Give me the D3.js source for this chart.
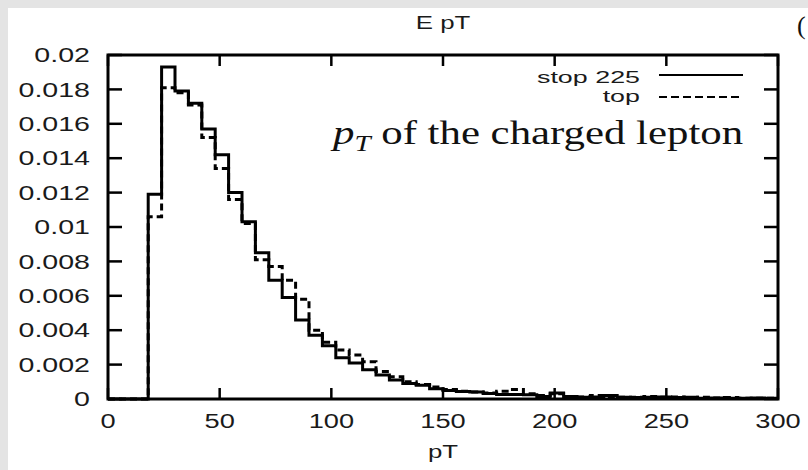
<!DOCTYPE html>
<html>
<head>
<meta charset="utf-8" />
<script src="https://d3js.org/d3.v7.min.js"></script>
<style>
  body { margin: 0; padding: 0; background: #e4e4e4; }
  svg { display: block; }
  .lbl { font-family: "Liberation Sans", Arial, sans-serif; fill: #1a1a1a; }
  .note { font-family: "Liberation Serif", "Times New Roman", serif; fill: #111; }
</style>
</head>
<body>
<svg id="chart" width="808" height="470"></svg>
<script>
// lower edge of each 6 GeV bin
const binLow = [0, 6, 12, 18, 24, 30, 36, 42, 48, 54, 60, 66, 72, 78, 84, 90, 96, 102, 108, 114,
  120, 126, 132, 138, 144, 150, 156, 162, 168, 174, 180, 186, 192, 198, 204, 210, 216, 222, 228, 234,
  240, 246, 252, 258, 264, 270, 276, 282, 288, 294];
const binHigh = 300;

// stop 225 (solid)
const stop225 = [0, 0, 0, 0.0119, 0.0193, 0.0179, 0.0172, 0.0157, 0.0142, 0.0120,
  0.0103, 0.0085, 0.0069, 0.0059, 0.0046, 0.0037, 0.0031, 0.0024, 0.0021, 0.0017,
  0.0014, 0.0011, 0.0009, 0.0008, 0.0006, 0.0005, 0.00043, 0.0004, 0.00032, 0.00026,
  0.00026, 0.00024, 0.00015, 0.00035, 0.00015, 0.0001, 0.00012, 0.0002, 0.0001, 0.00008,
  0.0001, 0.00012, 0.00008, 0.0001, 0.00005, 0.00006, 0.00005, 0.00004, 0.00006, 0.00005];

// top (dashed)
const topQ = [0, 0, 0, 0.0106, 0.0181, 0.0178, 0.0171, 0.0152, 0.0134, 0.0116,
  0.0102, 0.0081, 0.0077, 0.0069, 0.0058, 0.0040, 0.0033, 0.00285, 0.00256, 0.00217,
  0.0016, 0.0013, 0.0010, 0.00085, 0.0007, 0.00055, 0.00045, 0.0004, 0.00035, 0.00045,
  0.00055, 0.0003, 0.0002, 0.0003, 0.00015, 0.00012, 0.0002, 0.00015, 0.0001, 0.0001,
  0.00015, 0.0001, 0.00012, 0.00008, 0.0001, 0.00006, 0.00008, 0.00005, 0.00004, 0.00005];

const xTicks = [0, 50, 100, 150, 200, 250, 300];
const yTicks = [0, 0.002, 0.004, 0.006, 0.008, 0.01, 0.012, 0.014, 0.016, 0.018, 0.02];
const yTickLabels = ["0", "0.002", "0.004", "0.006", "0.008", "0.01", "0.012", "0.014", "0.016", "0.018", "0.02"];

const svg = d3.select("#chart");
const stretch = 1.36;  // text in the picture is wide

// white page
svg.append("rect").attr("x", 8).attr("y", 8).attr("width", 800).attr("height", 462).attr("fill", "#fff");

const pl = 108, pr = 778, pt = 55, pb = 399;
const x = d3.scaleLinear().domain([0, 300]).range([pl, pr]);
const y = d3.scaleLinear().domain([0, 0.02]).range([pb, pt]);

function label(px, py, txt, anchor, size, sx) {
  svg.append("text")
    .attr("class", "lbl")
    .attr("transform", `translate(${px},${py}) scale(${sx},1)`)
    .attr("text-anchor", anchor)
    .attr("dy", "0.36em")
    .style("font-size", size + "px")
    .text(txt);
}

// ticks on all four sides
const tk = svg.append("g").attr("stroke", "#000").attr("stroke-width", 2.5);
yTicks.forEach(v => {
  tk.append("line").attr("x1", pl).attr("x2", pl + 14).attr("y1", y(v)).attr("y2", y(v));
  tk.append("line").attr("x1", pr - 14).attr("x2", pr).attr("y1", y(v)).attr("y2", y(v));
});
xTicks.forEach(v => {
  tk.append("line").attr("x1", x(v)).attr("x2", x(v)).attr("y1", pb).attr("y2", pb - 11);
  tk.append("line").attr("x1", x(v)).attr("x2", x(v)).attr("y1", pt).attr("y2", pt + 11);
});

yTicks.forEach((v, i) => label(90, y(v), yTickLabels[i], "end", 20, 1.43));
xTicks.forEach(v => label(x(v), 421, v, "middle", 20, stretch));
label(443, 451, "pT", "middle", 19, stretch);
label(443, 22, "E pT", "middle", 19, stretch);

// histograms as steps
function steps(vals) {
  const pts = binLow.map((b, i) => [b, vals[i]]);
  pts.push([binHigh, vals[vals.length - 1]]);
  return d3.line().x(d => x(d[0])).y(d => y(d[1])).curve(d3.curveStepAfter)(pts);
}

svg.append("path").attr("d", steps(stop225))
  .attr("fill", "none").attr("stroke", "#000").attr("stroke-width", 3);
svg.append("path").attr("d", steps(topQ))
  .attr("fill", "none").attr("stroke", "#000").attr("stroke-width", 3)
  .attr("stroke-dasharray", "7,4");

// frame
svg.append("rect").attr("x", pl).attr("y", pt).attr("width", pr - pl).attr("height", pb - pt)
  .attr("fill", "none").attr("stroke", "#000").attr("stroke-width", 3);

// legend
label(640, 77, "stop 225", "end", 17, 1.58);
label(640, 96, "top", "end", 17, 1.58);
svg.append("line").attr("x1", 659).attr("x2", 743).attr("y1", 75).attr("y2", 75)
  .attr("stroke", "#000").attr("stroke-width", 2);
svg.append("line").attr("x1", 659).attr("x2", 743).attr("y1", 97).attr("y2", 97)
  .attr("stroke", "#000").attr("stroke-width", 2).attr("stroke-dasharray", "8,4");

// annotation
const note = svg.append("text").attr("class", "note")
  .attr("transform", `translate(333,144) scale(1.26,1)`)
  .style("font-size", "34px");
note.append("tspan").style("font-style", "italic").text("p");
note.append("tspan").style("font-style", "italic").style("font-size", "23px").attr("dy", 7).text("T");
note.append("tspan").attr("dy", -7).text(" of the charged lepton");

// cut-off mark at the page's top right
svg.append("text").attr("class", "note").attr("x", 797).attr("y", 34).style("font-size", "26px").text("(");
</script>
</body>
</html>
